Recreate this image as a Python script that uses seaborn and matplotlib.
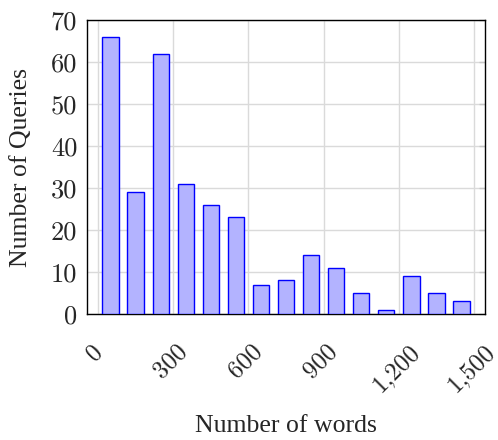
import numpy as np
import pandas as pd
import seaborn as sns
import matplotlib.pyplot as plt
import matplotlib.transforms as mtransforms
from matplotlib.ticker import FuncFormatter

# data
bin_centers = [50, 150, 250, 350, 450, 550, 650, 750, 850, 950, 1050, 1150, 1250, 1350, 1450]
num_queries = [66, 29, 62, 31, 26, 23, 7, 8, 14, 11, 5, 1, 9, 5, 3]
x_ticks = [0, 300, 600, 900, 1200, 1500]
y_ticks = [0, 10, 20, 30, 40, 50, 60, 70]

df = pd.DataFrame({"words": bin_centers, "queries": num_queries})

sns.set_style("white")
plt.rcParams["font.family"] = ["Liberation Serif", "DejaVu Serif"]

fig = plt.figure(figsize=(4.98, 4.40), dpi=100)
ax = fig.add_axes([0.1747, 0.2864, 0.7993, 0.6681])

sns.barplot(data=df, x="words", y="queries", native_scale=True, width=0.65,
            color="#b3b3ff", edgecolor="blue", linewidth=1.0, saturation=1,
            ax=ax, zorder=3)

ax.set_xlim(-44, 1544)
ax.set_ylim(0, 70)
ax.set_xticks(x_ticks)
ax.set_yticks(y_ticks)
ax.xaxis.set_major_formatter(FuncFormatter(lambda v, p: f"{int(v):,}"))
ax.grid(True, color="#dadada", linewidth=1.0, zorder=0)
ax.set_axisbelow(True)

for s in ax.spines.values():
    s.set_color("black")
    s.set_linewidth(1.0)

ax.tick_params(axis="x", direction="out", length=6, color="#c8c8c8", width=1,
               pad=13)
ax.tick_params(axis="y", direction="in", length=4, color="#c8c8c8", width=1,
               pad=7, right=True)

tick_family = ["cmr10", "DejaVu Serif"]
shift = mtransforms.ScaledTranslation(-3 / 100, 0, fig.dpi_scale_trans)
for lab in ax.get_xticklabels():
    lab.set_fontfamily(tick_family)
    lab.set_fontsize(18)
    lab.set_rotation(45)
    lab.set_ha("center")
    lab.set_va("top")
    lab.set_rotation_mode("default")
    lab.set_transform(lab.get_transform() + shift)
for lab in ax.get_yticklabels():
    lab.set_fontfamily(tick_family)
    lab.set_fontsize(19)

ax.set_xlabel("Number of words", fontsize=18.5)
ax.set_ylabel("Number of Queries", fontsize=18.5)
ax.xaxis.set_label_coords(0.5, -0.345)
ax.yaxis.set_label_coords(-0.138, 0.5)

fig.savefig("out.png", dpi=100)
